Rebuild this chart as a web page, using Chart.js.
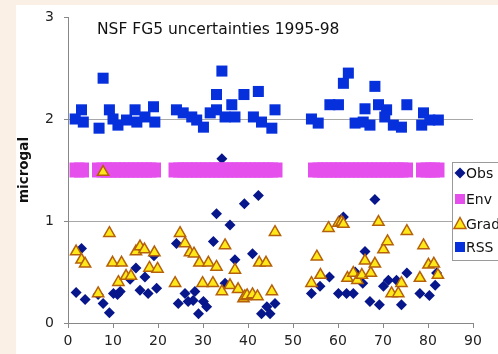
<!DOCTYPE html>
<html>
<head>
<meta charset="utf-8">
<script src="https://cdn.jsdelivr.net/npm/chart.js@4/dist/chart.umd.min.js"></script>
<style>
  html, body { margin: 0; padding: 0; }
  body { width: 498px; height: 354px; background: #faf0e6; position: relative; overflow: hidden; }
  .panel { position: absolute; left: 16px; top: 5px; width: 482px; height: 349px; background: #fff; }
</style>
</head>
<body>
<div class="panel"><canvas id="fg5Chart"></canvas></div>
<script>
// chart values
const chartTitle = "NSF FG5 uncertainties 1995-98";
const xTicks = [0, 10, 20, 30, 40, 50, 60, 70, 80, 90];
const yTicks = [0, 1, 2, 3];

const obsX = [1.8, 3.0, 3.8, 6.7, 7.8, 9.2, 10.1, 11.0, 11.6, 13.8, 15.1, 16.0, 17.1, 17.8, 19.1, 19.7,
  24.1, 24.5, 26.0, 26.7, 27.8, 28.2, 29.0, 30.1, 30.8, 32.3, 33.0, 34.2, 34.9, 36.0, 37.1, 39.2, 41.0, 42.3, 43.0, 44.2, 44.9, 46.0,
  54.1, 56.0, 58.1, 60.1, 61.2, 61.9, 63.4, 63.8, 65.5, 66.0, 67.1, 68.2, 69.2, 70.1, 71.2, 73.0, 74.1, 75.3, 78.2, 80.3, 81.6, 81.9];
const obsY = [0.30, 0.73, 0.23, 0.28, 0.19, 0.10, 0.29, 0.28, 0.31, 0.43, 0.54, 0.32, 0.45, 0.29, 0.66, 0.34,
  0.78, 0.19, 0.29, 0.21, 0.22, 0.31, 0.09, 0.21, 0.16, 0.80, 1.07, 1.61, 0.39, 0.96, 0.62, 1.17, 0.68, 1.25, 0.09, 0.16, 0.09, 0.19,
  0.29, 0.36, 0.45, 0.29, 1.04, 0.29, 0.29, 0.50, 0.39, 0.70, 0.21, 1.21, 0.18, 0.36, 0.42, 0.42, 0.18, 0.49, 0.29, 0.27, 0.37, 0.49];

const envX = [2, 3, 7, 8, 9, 10, 11, 12, 13, 14, 15, 16, 17, 18, 19,
  24, 25, 26, 27, 28, 29, 30, 31, 32, 33, 34, 35, 36, 37, 38, 39, 40, 41, 42, 43, 44, 45, 46,
  55, 56, 57, 58, 59, 60, 61, 62, 63, 64, 65, 66, 67, 68, 69, 70, 71, 72, 73, 74, 75,
  79, 80, 81, 82];
const envY = [1.5, 1.5, 1.5, 1.5, 1.5, 1.5, 1.5, 1.5, 1.5, 1.5, 1.5, 1.5, 1.5, 1.5, 1.5,
  1.5, 1.5, 1.5, 1.5, 1.5, 1.5, 1.5, 1.5, 1.5, 1.5, 1.5, 1.5, 1.5, 1.5, 1.5, 1.5, 1.5, 1.5, 1.5, 1.5, 1.5, 1.5, 1.5,
  1.5, 1.5, 1.5, 1.5, 1.5, 1.5, 1.5, 1.5, 1.5, 1.5, 1.5, 1.5, 1.5, 1.5, 1.5, 1.5, 1.5, 1.5, 1.5, 1.5, 1.5,
  1.5, 1.5, 1.5, 1.5];

const gradX = [1.8, 3.0, 3.8, 6.7, 7.8, 9.2, 9.9, 11.2, 11.9, 12.9, 14.0, 15.1, 16.0, 17.0, 18.1, 19.2, 19.9,
  23.8, 24.9, 26.0, 27.1, 28.0, 29.2, 29.9, 31.2, 32.2, 33.0, 34.2, 34.9, 36.0, 37.1, 37.8, 39.0, 39.3, 39.8, 41.0, 42.1, 42.5, 44.0, 45.3, 46.0,
  54.1, 55.3, 56.1, 57.9, 60.1, 60.8, 61.2, 62.1, 63.4, 64.3, 65.3, 66.0, 67.3, 68.2, 69.0, 70.1, 71.0, 71.9, 73.4, 74.1, 75.3,
  78.2, 79.0, 80.1, 81.3, 82.2];
const gradY = [0.70, 0.62, 0.58, 0.29, 1.48, 0.88, 0.59, 0.40, 0.59, 0.46, 0.46, 0.70, 0.75, 0.72, 0.54, 0.69, 0.53,
  0.39, 0.88, 0.78, 0.69, 0.68, 0.59, 0.39, 0.59, 0.39, 0.55, 0.31, 0.76, 0.37, 0.52, 0.33, 0.24, 0.26, 0.27, 0.28, 0.26, 0.59, 0.59, 0.31, 0.89,
  0.39, 0.65, 0.47, 0.93, 0.98, 0.99, 0.97, 0.44, 0.49, 0.42, 0.47, 0.61, 0.49, 0.58, 0.99, 0.72, 0.80, 0.29, 0.29, 0.39, 0.90,
  0.44, 0.76, 0.57, 0.58, 0.47];

const rssX = [1.6, 3.0, 3.4, 6.9, 7.8, 9.2, 10.0, 11.1, 13.0, 14.9, 15.3, 17.1, 19.0, 19.3,
  24.1, 25.6, 27.5, 28.6, 30.1, 31.6, 33.0, 33.0, 34.2, 34.9, 36.4, 37.1, 39.1, 41.2, 42.3, 43.0, 45.3, 46.0,
  54.1, 55.6, 58.2, 60.1, 61.2, 62.3, 63.8, 65.6, 66.0, 67.1, 68.2, 69.0, 70.4, 70.8, 72.3, 74.1, 75.3,
  78.6, 79.0, 80.4, 82.3];
const rssY = [2.00, 2.09, 1.97, 1.91, 2.40, 2.09, 2.00, 1.94, 1.99, 2.09, 1.97, 2.02, 2.12, 1.97,
  2.09, 2.06, 2.02, 1.99, 1.92, 2.06, 2.24, 2.09, 2.47, 2.02, 2.14, 2.02, 2.24, 2.02, 2.27, 1.97, 1.91, 2.09,
  2.00, 1.96, 2.14, 2.14, 2.35, 2.45, 1.96, 1.97, 2.10, 1.94, 2.32, 2.14, 2.02, 2.09, 1.94, 1.92, 2.14,
  1.94, 2.06, 1.99, 1.99];

const FONT = "'DejaVu Sans', Verdana, sans-serif";
const colObs = "#07168a";
const colEnv = "#e550ed";
const colGrad = "#ffe81a";
const colGradBorder = "#b5600a";
const colRss = "#0630dc";

const toPoints = (xs, ys) => xs.map((x, i) => ({ x: x, y: ys[i] }));

// title + legend sit inside the plot, so they are drawn by hand
const overlayPlugin = {
  id: "overlay",
  afterDraw(chart) {
    const ctx = chart.ctx;
    ctx.save();
    ctx.fillStyle = "#111";
    ctx.font = "15.5px " + FONT;
    ctx.textAlign = "left";
    ctx.textBaseline = "alphabetic";
    ctx.fillText(chartTitle, 81, 29);

    // legend box
    ctx.fillStyle = "#fff";
    ctx.fillRect(436.5, 157.5, 60, 98);
    ctx.strokeStyle = "#9a9a9a";
    ctx.lineWidth = 1;
    ctx.strokeRect(436.5, 157.5, 60, 98);

    const items = chart.data.datasets.map((d) => d.label);
    const rowsY = [168, 194, 219, 242];
    const mx = 444;
    items.forEach((name, i) => {
      const y = rowsY[i];
      ctx.beginPath();
      if (name === "Obs") {
        ctx.moveTo(mx, y - 5.5); ctx.lineTo(mx + 5.5, y); ctx.lineTo(mx, y + 5.5); ctx.lineTo(mx - 5.5, y);
        ctx.closePath();
        ctx.fillStyle = colObs; ctx.fill();
      } else if (name === "Env") {
        ctx.fillStyle = colEnv; ctx.fillRect(mx - 5, y - 5, 10, 10);
      } else if (name === "Grad") {
        ctx.moveTo(mx, y - 6.5); ctx.lineTo(mx + 6, y + 4.5); ctx.lineTo(mx - 6, y + 4.5);
        ctx.closePath();
        ctx.fillStyle = colGrad; ctx.fill();
        ctx.strokeStyle = colGradBorder; ctx.lineWidth = 1.5; ctx.stroke();
      } else {
        ctx.fillStyle = colRss; ctx.fillRect(mx - 5, y - 5, 10, 10);
      }
      ctx.fillStyle = "#111";
      ctx.font = "14px " + FONT;
      ctx.textBaseline = "middle";
      ctx.fillText(name, 450, y + 1);
    });
    ctx.restore();
  },
};

const chart = new Chart(document.getElementById("fg5Chart"), {
  type: "scatter",
  data: {
    datasets: [
      { label: "Obs", data: toPoints(obsX, obsY), order: 4, pointStyle: "rectRot", pointRadius: 5.5, pointHoverRadius: 5.5,
        backgroundColor: colObs, borderColor: colObs, borderWidth: 0 },
      { label: "Env", data: toPoints(envX, envY), order: 3, pointStyle: "rect", pointRadius: 10.6, pointHoverRadius: 10.6,
        backgroundColor: colEnv, borderColor: colEnv, borderWidth: 0 },
      { label: "Grad", data: toPoints(gradX, gradY), order: 2, pointStyle: "triangle", pointRadius: 6.5, pointHoverRadius: 6.5,
        backgroundColor: colGrad, borderColor: colGradBorder, borderWidth: 1.5 },
      { label: "RSS", data: toPoints(rssX, rssY), order: 1, pointStyle: "rect", pointRadius: 7.8, pointHoverRadius: 7.8,
        backgroundColor: colRss, borderColor: colRss, borderWidth: 0 },
    ],
  },
  options: {
    responsive: true,
    maintainAspectRatio: false,
    animation: false,
    devicePixelRatio: 1,
    layout: { padding: { top: 12, right: 25, bottom: 0, left: 0 } },
    plugins: {
      legend: { display: false },
      tooltip: { enabled: false },
    },
    scales: {
      x: {
        type: "linear",
        min: 0,
        max: 90,
        afterBuildTicks: (scale) => { scale.ticks = xTicks.map((v) => ({ value: v })); },
        ticks: { padding: 5, color: "#222", font: { family: FONT, size: 14 } },
        grid: { drawOnChartArea: false, drawTicks: true, tickLength: 5, tickColor: "#888" },
        border: { color: "#888" },
        afterFit: (scale) => { scale.height = 31; },
      },
      y: {
        min: 0,
        max: 3,
        afterBuildTicks: (scale) => { scale.ticks = yTicks.map((v) => ({ value: v })); },
        ticks: { padding: 10, color: "#222", font: { family: FONT, size: 14 } },
        grid: {
          color: (c) => (c.tick && (c.tick.value === 1 || c.tick.value === 2) ? "#a8a8a8" : "rgba(0,0,0,0)"),
          tickColor: "#888",
          tickLength: 4,
        },
        border: { color: "#888" },
        title: { display: true, text: "microgal", color: "#111", padding: 0, font: { family: FONT, size: 13.5, weight: "bold" } },
        afterFit: (scale) => {
          scale.width = 52;
          // stop the label padding from pushing the plot top down
          scale.paddingTop = 0;
          scale.paddingBottom = 0;
        },
      },
    },
  },
  plugins: [overlayPlugin],
});
</script>
</body>
</html>
